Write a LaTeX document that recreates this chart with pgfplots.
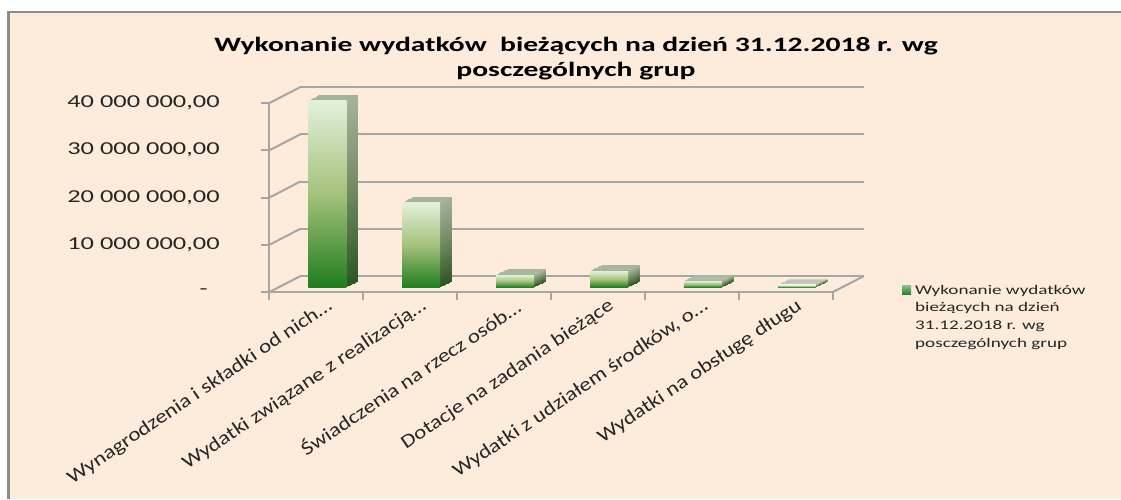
\documentclass[border=0pt]{standalone}
\usepackage{pgfplots}
\pgfplotsset{compat=1.18}
\usepackage{pgfplotstable}
\usepackage{fontspec}
\setmainfont{Carlito}[FakeStretch=1.45]
\newfontfamily\labfont{Carlito}[FakeStretch=1.2]
\definecolor{bg}{HTML}{FDEBDC}
\definecolor{bordc}{HTML}{8C8C8C}
\definecolor{gridc}{HTML}{A6A6A6}
\definecolor{txt}{HTML}{262626}
\definecolor{ftop}{HTML}{E3F0DA}
\definecolor{fmid}{HTML}{A4C27C}
\definecolor{fbot}{HTML}{1F7D1C}
\definecolor{stop}{HTML}{A6B29B}
\definecolor{smid}{HTML}{708A60}
\definecolor{sbot}{HTML}{2A5622}
\pgfplotstableread{
x y
0 39450000
1 17900000
2 2600000
3 3450000
4 1330000
5 500000
}\bars
\pgfplotsset{
  depth/.style={ybar, bar shift=0pt, bar width=19pt, draw=none, forget plot,
    top color=stop, bottom color=sbot, middle color=smid, xshift=5.4pt+#1*5.85pt, yshift=2.35pt+#1*2.85pt},
  front/.style={ybar, bar shift=0pt, bar width=19pt, draw=none, forget plot,
    top color=ftop, bottom color=fbot, middle color=fmid, xshift=5.4pt, yshift=2.35pt},
}
\begin{document}
\begin{tikzpicture}
\useasboundingbox (0,0) rectangle (560.5pt,249.5pt);
\fill[bg] (3.5pt,0) rectangle (560.5pt,243.5pt);
\draw[bordc, line width=1.5pt] (4.25pt,0) -- (4.25pt,243.5pt);
\draw[bordc, line width=1pt] (3.5pt,243.5pt) -- (560.5pt,243.5pt);
\node[font=\bfseries\fontsize{10.2}{12}\selectfont, text=black, anchor=base] at (288pt,223.5pt) {Wykonanie wydatków\ \ bieżących na dzień 31.12.2018 r. wg};
\node[font=\bfseries\fontsize{10.2}{12}\selectfont, text=black, anchor=base] at (288pt,211pt) {posczególnych grup};
\begin{axis}[
  at={(134.75pt,103.5pt)}, anchor=south west,
  scale only axis, width=281.75pt, height=94.5pt,
  xmin=-0.5, xmax=5.5, ymin=0, ymax=40000000,
  clip=false,
  axis x line*=bottom, axis y line*=left,
  axis line style={gridc, line width=1pt, -},
  tick align=outside,
  major tick length=4pt,
  tick style={gridc, line width=1pt},
  /pgf/number format/assume math mode=true,
  scaled y ticks=false,
  ytick={0,10000000,20000000,30000000,40000000},
  yticklabels={{-\hspace*{6pt}},{10 000 000,00},{20 000 000,00},{30 000 000,00},{40 000 000,00}},
  yticklabel style={font=\fontsize{9.1}{11}\selectfont, text=txt, anchor=east, inner sep=0pt, xshift=-20.75pt},
  xtick={-0.5,0.5,1.5,2.5,3.5,4.5,5.5},
  xticklabels=\empty,
  extra x ticks={0.15,1.15,2.15,3.15,4.15,5.15},
  extra x tick labels={Wynagrodzenia i składki od nich…,Wydatki związane z realizacją…,Świadczenia na rzecz osób…,Dotacje na zadania bieżące,{Wydatki z udziałem środków, o…},Wydatki na obsługę długu},
  extra x tick style={major tick length=0pt, xticklabel style={font=\labfont\fontsize{9.6}{11}\selectfont, text=txt, anchor=east, inner sep=0pt, rotate=34}, xticklabel shift=6pt},
  legend style={at={(rel axis cs:1.122,0.06)}, anchor=north west, draw=none, fill=none, inner sep=0pt,
    font=\fontsize{6.6}{8.85}\selectfont, text=txt, cells={anchor=west, align=left}},
]
% back wall gridlines and floor
\pgfplotsinvokeforeach{0,10000000,20000000,30000000,40000000}{
  \draw[gridc, line width=1pt] ([shift={(15.5pt,8pt)}]axis cs:-0.5,#1) -- ([shift={(15.5pt,8pt)}]axis cs:5.5,#1);
  \draw[gridc, line width=1pt] (axis cs:-0.5,#1) -- ([shift={(15.5pt,8pt)}]axis cs:-0.5,#1);
}
\draw[gridc, line width=1pt] (axis cs:5.5,0) -- ([shift={(15.5pt,8pt)}]axis cs:5.5,0);
% each bar separately, so that its shading spans its own height
\pgfplotsinvokeforeach{0,1,2,3,4,5}{
  \addplot[depth=1, restrict x to domain=#1:#1] table[x=x,y=y] {\bars};
  \addplot[depth=0.875, restrict x to domain=#1:#1] table[x=x,y=y] {\bars};
  \addplot[depth=0.75, restrict x to domain=#1:#1] table[x=x,y=y] {\bars};
  \addplot[depth=0.625, restrict x to domain=#1:#1] table[x=x,y=y] {\bars};
  \addplot[depth=0.5, restrict x to domain=#1:#1] table[x=x,y=y] {\bars};
  \addplot[depth=0.375, restrict x to domain=#1:#1] table[x=x,y=y] {\bars};
  \addplot[depth=0.25, restrict x to domain=#1:#1] table[x=x,y=y] {\bars};
  \addplot[depth=0.125, restrict x to domain=#1:#1] table[x=x,y=y] {\bars};
  \addplot[front, restrict x to domain=#1:#1] table[x=x,y=y] {\bars};
}
\addlegendimage{draw=none, legend image code/.code={\fill[draw=none, top color=ftop!55!fbot, bottom color=fbot] (0pt,11.45pt) rectangle (4.5pt,15.95pt);}}
\addlegendentry{Wykonanie wydatków\\bieżących na dzień\\31.12.2018 r. wg\\posczególnych grup}
\end{axis}
\end{tikzpicture}
\end{document}
